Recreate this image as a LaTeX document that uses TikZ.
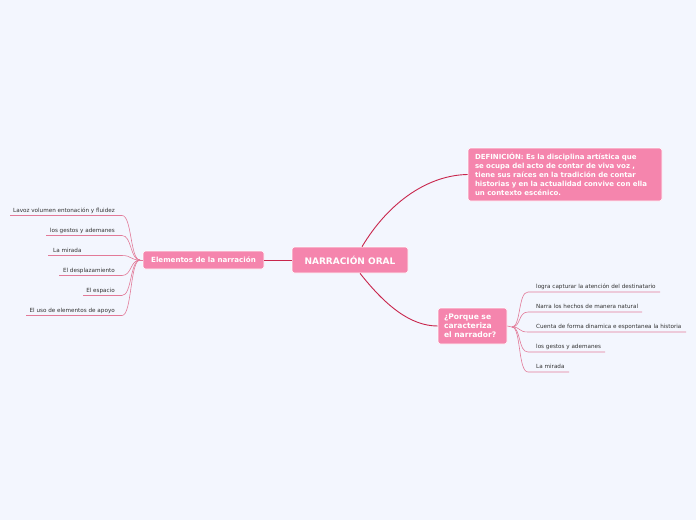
\documentclass[tikz,border=0pt]{standalone}
\usepackage{fontspec}
\setmainfont{DejaVu Sans}
\definecolor{bg}{HTML}{F3F6FE}
\definecolor{nodepink}{HTML}{F585AD}
\definecolor{mainline}{HTML}{C8264C}
\definecolor{leafline}{HTML}{E27A98}
\definecolor{leaftext}{HTML}{333333}
\begin{document}
\begin{tikzpicture}[x=1pt,y=-1pt,
  box/.style={fill=nodepink,draw=white,line width=0.6pt,rounded corners=2.5pt,text=white,font=\bfseries},
  leaf/.style={inner sep=0pt,font=\fontsize{5.65}{6}\selectfont,text=leaftext},
  mline/.style={draw=mainline,line width=0.9pt},
  lline/.style={draw=leafline,line width=0.6pt}]
\fill[bg] (0,0) rectangle (696,520);
\useasboundingbox (0,0) rectangle (696,520);

% main nodes
\node[box,minimum width=116pt,minimum height=26pt,font=\bfseries\fontsize{9}{10}\selectfont] (root) at (350,260) {NARRACIÓN ORAL};
\node[box,minimum width=121pt,minimum height=18pt,font=\bfseries\fontsize{7.1}{8}\selectfont] (elem) at (203.5,260) {Elementos de la narración};
\node[box,minimum width=194pt,minimum height=53pt,align=left,text width=180pt,inner xsep=7pt,inner ysep=4pt,font=\bfseries\fontsize{7.0}{9}\selectfont] (def) at (565,174.5) {\hyphenpenalty=10000 DEFINICIÓN: Es la disciplina artística que\\se ocupa del acto de contar de viva voz ,\\tiene sus raíces en la tradición de contar\\historias y en la actualidad convive con ella\\un contexto escénico.};
\node[box,minimum width=69pt,minimum height=36pt,align=left,text width=57pt,inner xsep=6pt,inner ysep=4pt,font=\bfseries\fontsize{7.6}{9}\selectfont] (porq) at (472.5,326) {\hyphenpenalty=10000 ¿Porque se\\caracteriza\\el narrador?};

% main connectors
\draw[mline] (root.west) -- (elem.east);
\draw[mline] ([xshift=12pt]root.north) .. controls (390,200) and (430,175) .. (def.west);
\draw[mline] ([xshift=10pt]root.south) .. controls (385,305) and (410,326) .. (porq.west);

% left hub
\coordinate (lh) at (140,260);
\draw[lline] (elem.west) -- (lh);

\node[leaf,anchor=base east] (l1) at (115,212) {Lavoz volumen entonación y fluidez};
\node[leaf,anchor=base east] (l2) at (115,232) {los gestos y ademanes};
\node[leaf,anchor=base west] (l3) at (53,252) {La mirada};
\node[leaf,anchor=base east] (l4) at (115,272) {El desplazamiento};
\node[leaf,anchor=base east] (l5) at (115,292) {El espacio};
\node[leaf,anchor=base east] (l6) at (115,312) {El uso de elementos de apoyo};

\coordinate (u1) at (10,215.5);
\coordinate (u2) at (46,235.5);
\coordinate (u3) at (48,255.5);
\coordinate (u4) at (59,275.5);
\coordinate (u5) at (83,295.5);
\coordinate (u6) at (26,315.5);

\foreach \i/\y in {1/215.5,2/235.5,3/255.5,4/275.5,5/295.5,6/315.5}{
  \draw[lline] (u\i) -- (122,\y) .. controls (132,\y) and (130,260) .. (lh);
}

% right hub
\coordinate (rh) at (512,327);
\draw[lline] (porq.east) -- (rh);

\node[leaf,anchor=base west] (r1) at (536,288) {logra capturar la atención del destinatario};
\node[leaf,anchor=base west] (r2) at (536,308) {Narra los hechos de manera natural};
\node[leaf,anchor=base west] (r3) at (536,328) {Cuenta de forma dinamica e espontanea la historia};
\node[leaf,anchor=base west] (r4) at (536,348) {los gestos y ademanes};
\node[leaf,anchor=base west] (r5) at (536,368) {La mirada};

\coordinate (e1) at (660,292);
\coordinate (e2) at (642,312);
\coordinate (e3) at (686,332);
\coordinate (e4) at (605,352);
\coordinate (e5) at (569,372);

\foreach \i/\y in {1/292,2/312,3/332,4/352,5/372}{
  \draw[lline] (rh) .. controls (521,327) and (518,\y) .. (528,\y) -- (e\i);
}
\end{tikzpicture}
\end{document}
